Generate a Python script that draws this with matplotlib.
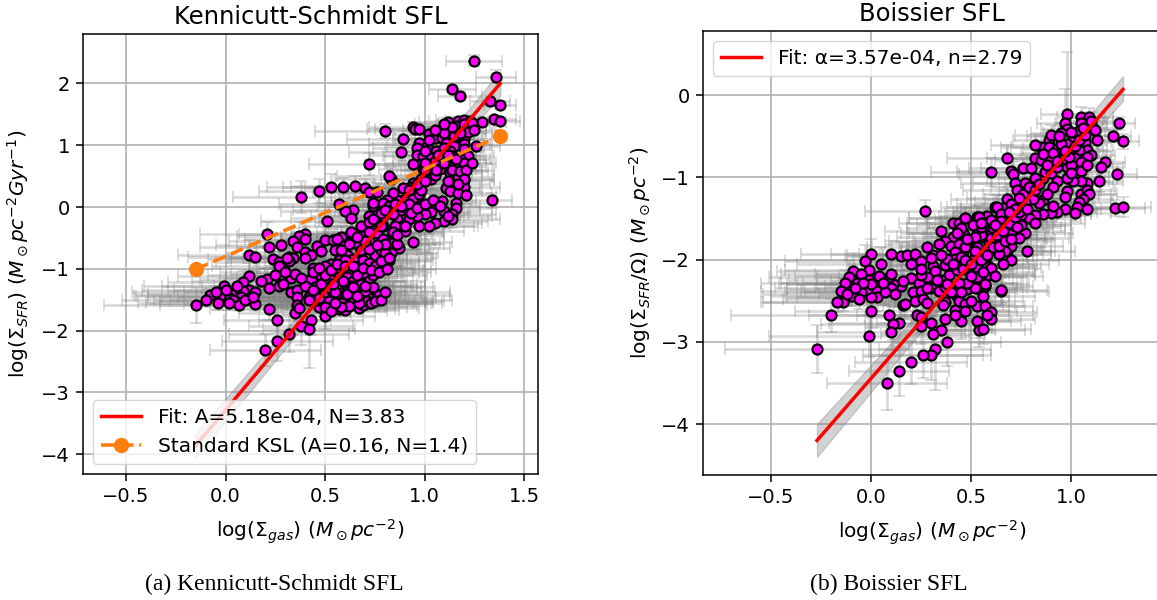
import matplotlib
matplotlib.use('Agg')
import matplotlib.pyplot as plt

# Kennicutt-Schmidt panel, values
ks_x = [1.25,1.36,1.14,1.18,1.33,1.38,1.35,1.38,1.29,1.12,
        1.17,1.20,1.23,1.16,1.20,1.24,1.15,.80,.94,.95,
        .97,1.02,1.05,1.09,1.12,.89,.97,.96,1.01,1.06,
        1.11,1.15,1.20,1.20,1.26,1.15,.88,.96,.99,1.03,
        1.08,1.13,1.20,1.22,1.18,1.14,1.10,1.15,1.20,.72,
        1.04,.99,.94,.83,.82,.98,1.03,1.13,1.17,1.20,
        1.20,1.11,1.13,1.17,1.21,1.16,1.09,1.34,1.16,1.14,
        1.14,1.10,1.05,1.02,1.03,1.10,.97,.94,.89,.89,
        .94,.97,.86,.84,.81,.59,.65,.70,.72,.76,
        .79,.74,.64,.60,.63,.68,.74,.79,.86,.92,
        .97,.90,.94,.87,.83,.82,.75,.69,.63,.84,
        .79,.75,.69,.63,.58,.65,.61,.69,.67,.60,
        .79,.70,.84,1.00,.96,.88,.82,.72,.38,.47,
        .53,.57,.51,.74,.78,.21,.40,.37,.40,.34,
        .36,.28,.22,.46,.12,.15,.40,.43,.40,.48,
        .50,.54,.56,.63,.72,.74,.76,.79,.72,.68,
        .72,.78,.24,.27,.32,.34,.32,.31,.27,.44,
        .53,.57,.64,.72,.66,.59,.62,.55,.57,.61,
        .12,.09,.21,.33,.43,.48,-.01,.12,.09,.15,
        .08,.03,.01,-.03,-.08,-.04,.05,.15,.22,.27,
        .29,.33,.36,.40,.45,.50,.54,.57,.61,.64,
        .66,.36,.42,.52,.57,.61,.64,.68,.72,.77,
        .72,.67,.57,.60,.47,.51,.36,.35,.22,.26,
        .50,.43,.38,.42,.32,.26,.20,.54,.58,.48,
        .37,.69,.71,-.15,.46,.50,.55,.60,.63,.68,
        .72,.52,.59,.66,.74,.60,.55,.60,.50,.75,
        .80,.72,.78,.85,.90,.85,.92,1.00,1.05,1.10,
        1.15,1.10,
        .46,.49,.52,.55,.58,.61,.64,.67,.70,.73,
        .75,.78,.80,.74,.70,.66,.62,.58,.54,.50,
        .44,.47,.53,.56,.60,.64,.69,.73,.77,.81,
        .78,.82,.86,.84,.80,.76,.70,.66,.62,.58,
        .86,.90,.93,.96,1.0,1.04,1.08,1.12,.98,.93,
        .80,.84,.88,.92,.96,1.0,1.05,1.08,1.0,1.06,
        1.1,1.14,1.18,1.07,1.12,1.16,1.02,1.0,1.1,1.05,
        1.22,1.25,1.18,1.14,1.1,1.21,1.24,1.2,1.17,1.12,
        -.1,-.05,.0,.04,.07,.1,.14,.18,.06,.02,
        .25,.3,.35,.38,.42,.44,.47,.5,.53,.55]
ks_y = [2.37,2.11,1.91,1.80,1.72,1.65,1.42,1.39,1.38,1.38,
        1.39,1.41,1.39,1.31,1.34,1.36,1.23,1.23,1.29,1.27,
        1.26,1.18,1.12,1.12,1.23,1.10,1.04,.96,.99,.91,
        1.04,1.10,1.10,1.02,.99,.99,.89,.85,.83,.80,
        .85,.91,.94,.83,.77,.83,.69,.66,.72,.70,
        .66,.61,.69,.46,.51,.46,.45,.55,.48,.43,
        .32,.31,.26,.23,.19,.07,.09,.11,-.01,-.12,
        -.20,-.23,-.26,-.30,-.08,-.06,.02,.15,.12,.31,
        .39,.21,.12,.23,.12,.33,.34,.30,.24,.24,
        .07,.02,-.04,-.06,-.17,-.31,-.23,-.15,-.17,-.20,
        -.31,-.39,-.56,-.67,-.75,-.85,-.77,-.85,-.90,-.42,
        -.31,-.52,-.47,-.44,-.48,-.58,-.77,-1.06,-1.28,-1.20,
        -.72,-.66,-.58,-.12,-.15,-.04,.02,-.15,.16,.26,
        .32,.05,-.22,.07,-.09,-.44,-.43,-.47,-.51,-.55,
        -.64,-.61,-.65,-.63,-.78,-.81,-.72,-.77,-.82,-.71,
        -.53,-.54,-.52,-.41,-.24,-.20,-.42,-.52,-.55,-.69,
        -.68,-.69,-.84,-.89,-.81,-.82,-.88,-.82,-.96,-.98,
        -.92,-.85,-.84,-.90,-.98,-.96,-1.01,-1.04,-1.13,-1.13,
        -1.11,-1.22,-1.17,-1.15,-1.16,-1.12,-1.28,-1.34,-1.36,-1.37,
        -1.45,-1.40,-1.46,-1.44,-1.42,-1.55,-1.52,-1.57,-1.31,-1.28,
        -1.24,-1.37,-1.34,-1.28,-1.29,-1.28,-1.31,-1.25,-1.34,-1.20,
        -1.34,-1.45,-1.46,-1.39,-1.49,-1.52,-1.54,-1.47,-1.47,-1.43,
        -1.55,-1.63,-1.65,-1.66,-1.61,-1.59,-1.58,-1.71,-1.65,-1.82,
        -1.77,-1.82,-1.93,-1.97,-2.05,-2.16,-2.32,-1.20,-1.39,-1.25,
        -1.63,-1.58,-1.52,-1.59,-1.40,-1.45,-1.45,-1.42,-1.28,-1.25,
        -1.20,-1.15,-1.20,-1.10,-1.10,-.85,-.70,-.62,-.95,-.95,
        -.75,-.40,-.30,-.30,.00,.05,.05,.60,.75,.95,
        1.15,.80,
        -1.50,-1.42,-1.52,-1.38,-1.56,-1.40,-1.30,-1.56,-1.36,-1.56,
        -1.52,-1.50,-1.38,-1.30,-1.28,-1.44,-1.60,-1.62,-1.24,-1.10,
        -1.05,-.98,-1.02,-.92,-.96,-.95,-.98,-1.02,-1.05,-1.0,
        -.88,-.82,-.60,-.40,-.60,-.62,-.55,-.48,-.60,-.70,
        -.46,-.30,-.10,-.02,.05,.12,.02,-.15,.28,.32,
        -.05,-.12,.02,.28,.38,.42,.52,.62,.72,.60,
        .72,.60,.58,.85,.85,.78,1.08,.9,1.2,1.25,
        1.22,1.25,1.2,1.3,1.35,.60,.72,.45,.38,.42,
        -1.5,-1.38,-1.35,-1.5,-1.58,-1.5,-1.45,-1.2,-1.28,-1.55,
        -1.1,-1.05,-1.08,-1.15,-1.5,-1.35,-1.48,-1.62,-1.68,-1.55]
ks_xerr = [.14,.10,.12,.11,.10,.08,.11,.10,.12,.15,
           .15,.14,.12,.15,.13,.11,.16,.35,.22,.24,
           .22,.18,.2,.16,.14,.28,.25,.22,.2,.18,
           .16,.15,.14,.13,.12,.15,.26,.24,.2,.19,
           .18,.16,.14,.13,.15,.16,.18,.16,.14,.3,
           .2,.22,.24,.28,.26,.2,.18,.16,.17,.15,
           .18,.17,.16,.17,.15,.2,.17,.1,.18,.22,
           .24,.22,.24,.25,.2,.18,.2,.22,.24,.22,
           .2,.2,.24,.25,.26,.3,.32,.3,.28,.27,
           .26,.28,.3,.32,.3,.29,.27,.26,.24,.26,
           .28,.3,.2,.26,.24,.22,.26,.28,.3,.26,
           .27,.26,.28,.3,.3,.28,.3,.28,.27,.3,
           .24,.27,.24,.22,.24,.25,.26,.29,.34,.3,
           .32,.3,.33,.27,.26,.34,.33,.31,.3,.32,
           .3,.33,.35,.3,.36,.34,.29,.3,.31,.28,
           .3,.29,.28,.3,.27,.26,.27,.25,.26,.28,
           .26,.24,.33,.32,.3,.31,.29,.3,.34,.28,
           .3,.28,.27,.25,.28,.3,.26,.31,.29,.28,
           .36,.38,.34,.33,.3,.32,.4,.38,.38,.36,
           .4,.42,.4,.42,.38,.4,.38,.36,.34,.33,
           .32,.34,.33,.3,.32,.3,.3,.28,.29,.27,
           .3,.34,.32,.33,.35,.34,.36,.33,.34,.36,
           .32,.3,.28,.27,.3,.3,.3,.28,.3,.27,
           .25,.26,.26,.23,.3,.28,.28,.28,.3,.3,
           .3,.32,.33,.46,.32,.32,.3,.3,.3,.28,
           .28,.3,.29,.28,.27,.27,.28,.28,.3,.25,
           .24,.26,.25,.24,.24,.24,.23,.19,.18,.16,
           .14,.16,
           .34,.34,.35,.36,.36,.37,.34,.36,.35,.36,
           .35,.36,.33,.3,.3,.33,.34,.33,.3,.3,
           .3,.3,.29,.28,.28,.27,.26,.26,.26,.25,
           .25,.24,.24,.25,.25,.26,.27,.28,.28,.29,
           .24,.23,.22,.22,.2,.19,.2,.22,.21,.22,
           .25,.24,.24,.22,.21,.2,.19,.18,.2,.18,
           .16,.15,.14,.18,.16,.15,.18,.2,.15,.16,
           .12,.11,.13,.14,.15,.14,.12,.15,.16,.17,
           .42,.42,.42,.4,.4,.38,.38,.35,.38,.42,
           .34,.33,.32,.32,.34,.33,.33,.3,.28,.3]
ks_yerr = [.09,.10,.07,.06,.08,.07,.05,.05,.06,.08,
           .07,.06,.06,.10,.08,.07,.10,.12,.09,.10,
           .1,.12,.09,.1,.11,.13,.12,.1,.14,.12,
           .13,.1,.12,.11,.1,.14,.14,.12,.15,.13,
           .14,.12,.11,.13,.15,.13,.16,.14,.12,.18,
           .15,.17,.15,.18,.16,.15,.16,.14,.13,.14,
           .14,.15,.16,.13,.14,.17,.16,.12,.15,.16,
           .14,.13,.12,.12,.15,.16,.17,.15,.18,.16,
           .17,.15,.18,.16,.17,.14,.16,.15,.17,.15,
           .18,.17,.19,.2,.18,.16,.19,.17,.18,.16,
           .14,.16,.14,.15,.17,.15,.18,.16,.2,.17,
           .17,.2,.18,.21,.19,.22,.2,.2,.17,.18,
           .16,.19,.16,.15,.16,.18,.17,.2,.26,.2,
           .22,.2,.22,.16,.17,.2,.18,.22,.19,.21,
           .22,.19,.24,.2,.24,.22,.2,.19,.23,.2,
           .21,.19,.2,.18,.17,.16,.18,.17,.19,.18,
           .19,.17,.25,.22,.21,.23,.2,.22,.24,.2,
           .19,.2,.18,.2,.17,.19,.21,.18,.2,.17,
           .2,.18,.17,.15,.18,.19,.13,.14,.12,.11,
           .1,.12,.1,.11,.1,.12,.11,.12,.14,.13,
           .16,.14,.15,.14,.13,.15,.14,.13,.12,.14,
           .12,.11,.1,.12,.09,.1,.09,.1,.09,.1,
           .09,.1,.12,.1,.12,.11,.18,.2,.17,.22,
           .2,.25,.3,.63,.3,.33,.26,.15,.13,.14,
           .15,.1,.1,.28,.12,.12,.11,.11,.13,.13,
           .14,.15,.14,.16,.15,.18,.2,.2,.17,.17,
           .16,.18,.17,.17,.17,.18,.16,.15,.14,.13,
           .11,.13,
           .1,.11,.09,.12,.09,.11,.13,.08,.11,.09,
           .09,.09,.11,.13,.13,.1,.09,.1,.14,.15,
           .16,.17,.16,.18,.17,.18,.17,.16,.16,.17,
           .17,.18,.16,.18,.17,.17,.19,.2,.19,.2,
           .17,.17,.16,.17,.16,.15,.16,.14,.15,.16,
           .18,.17,.18,.16,.15,.15,.14,.13,.14,.14,
           .13,.14,.14,.12,.12,.13,.1,.12,.09,.09,
           .07,.06,.07,.08,.09,.13,.12,.14,.15,.15,
           .11,.1,.11,.1,.11,.1,.1,.14,.13,.11,
           .18,.17,.18,.16,.11,.14,.12,.1,.11,.1]
ks_fit_x = [-.15, .6, 1.38]
ks_fit_y = [-3.86, -.99, 2.00]
ks_fit_lo = [-4.06, -1.11, 1.80]
ks_fit_hi = [-3.66, -.87, 2.20]
ksl_x = [-.15, 1.38]
ksl_y = [-1.01, 1.15]

# Boissier panel
bo_x = [.27,0,.10,.15,.18,.22,-.03,.28,.31,.35,
        .41,.44,.47,.46,.41,.37,.34,.40,.44,.46,
        .42,.53,.58,.60,.62,.67,.65,.53,.55,.60,
        .65,.59,.64,.68,.56,.52,.20,.25,.31,.32,
        .37,.42,.39,.43,.46,.20,.28,.24,.15,.11,
        .10,.09,.10,.03,.03,.03,-.01,-.01,0,0,
        -.09,-.05,-.11,-.07,-.13,-.02,-.05,-.15,-.10,-.06,
        -.14,-.17,-.20,.21,.25,.22,.26,.30,.34,.37,
        .28,.16,.17,.09,.14,.11,.10,-.01,.23,.25,
        .25,.30,.37,.37,.35,.31,.38,.32,.30,.26,
        .20,.14,.08,.42,.45,.43,.44,.47,.48,.49,
        .53,.56,.53,.57,.53,.54,.56,.60,.60,.58,
        .65,.53,.58,.57,.57,.25,.38,.48,-.27,.30,
        .98,1.05,1.09,.97,.98,1.05,.95,1.04,1.11,1.10,
        1.24,1.21,1.26,1.13,1.07,1.01,.98,.89,.85,.82,
        .89,.93,.99,1.08,1.10,1.08,1.04,1.02,1.17,1.05,
        .68,.82,.85,.89,.94,.98,1.00,1.05,.76,.80,
        .60,.70,.71,1.23,1.14,1.08,1.05,1.01,.98,.93,
        .86,.82,.77,.72,.91,.98,.97,1.05,1.08,1.09,
        1.06,1.04,1.03,1.02,1.08,1.22,1.26,.97,.93,.90,
        .91,.86,.84,.81,.77,.73,.68,.70,.63,.86,
        .82,.79,.82,.75,.70,.65,.60,.54,.47,.65,
        .70,.77,.74,.70,.78,.67,.64,.59,.55,.60,
        .65,.70,.53,.47,.46,.45,.58,.58,.53,.57,
        .52,.48,.65,.75,.71,.61,.55,.51,.65,.88,
        .35,.38,.41,.44,.47,.50,.52,.55,.58,.61,
        .63,.66,.69,.72,.74,.62,.64,.67,.70,.73,
        .76,.79,.82,.84,.87,.9,.93,.96,.99,.78,
        .86,.88,.91,.93,.95,.97,1.0,1.02,1.04,1.07,
        1.12,1.08,1.15,1.0,1.06,.9,.94,.74,.72,.69,
        .25,.28,.33,.36,.4,.45,.5,.35,.42,.47,
        .04,.07,.0,-.04,-.08,-.12,.06,.12,.16,.05,
        .52,.48,.55,.6,.62,.56,.5,.45,.43,.66]
bo_y = [-1.41,-1.93,-1.93,-1.96,-1.95,-1.93,-2.02,-1.85,-1.95,-1.65,
        -1.55,-1.55,-1.50,-1.68,-1.72,-1.78,-1.81,-1.83,-1.81,-1.89,
        -1.91,-1.48,-1.47,-1.53,-1.36,-1.36,-1.47,-1.61,-1.72,-1.69,
        -1.75,-1.81,-1.93,-1.89,-1.94,-1.97,-2.05,-2.02,-2.08,-2.14,
        -2.07,-1.99,-2.19,-2.13,-2.11,-2.23,-2.21,-2.28,-2.32,-2.30,
        -2.34,-2.21,-2.17,-2.30,-2.38,-2.46,-2.13,-2.25,-2.46,-2.63,
        -2.14,-2.17,-2.21,-2.29,-2.29,-2.36,-2.40,-2.38,-2.44,-2.48,
        -2.51,-2.51,-2.68,-2.40,-2.38,-2.50,-2.48,-2.34,-2.38,-2.33,
        -2.53,-2.55,-2.54,-2.67,-2.77,-2.78,-2.88,-2.93,-2.68,-2.70,
        -2.81,-2.77,-2.52,-2.72,-2.86,-2.90,-3.00,-3.09,-3.16,-3.16,
        -3.25,-3.36,-3.50,-2.61,-2.75,-2.44,-2.50,-2.54,-2.36,-2.28,
        -2.34,-2.44,-2.56,-2.56,-2.75,-2.86,-2.84,-2.64,-2.72,-2.68,
        -2.38,-2.09,-2.07,-2.18,-2.32,-2.19,-1.99,-1.79,-3.09,-1.98,
        -.23,-.26,-.26,-.34,-.41,-.34,-.46,-.44,-.40,-.32,
        -.34,-.50,-.56,-.55,-.57,-.52,-.59,-.54,-.63,-.61,
        -.63,-.66,-.69,-.67,-.73,-.75,-.67,-.77,-.81,-.81,
        -.77,-.77,-.79,-.77,-.85,-.87,-.85,-.92,-.89,-.89,
        -.93,-.92,-.96,-.96,-1.05,-1.07,-1.05,-1.05,-1.01,-1.04,
        -1.01,-1.01,-1.07,-1.07,-1.12,-1.17,-1.24,-1.20,-1.15,-1.20,
        -1.26,-1.30,-1.36,-1.43,-1.38,-1.37,-1.36,-1.39,-1.42,-1.43,
        -1.35,-1.28,-1.31,-1.26,-1.30,-1.15,-1.26,-1.32,-1.36,-1.44,
        -1.46,-1.49,-1.55,-1.46,-1.42,-1.44,-1.52,-1.48,-1.50,-1.53,
        -1.65,-1.68,-1.74,-1.83,-1.89,-1.89,-1.93,-1.87,-1.70,-1.74,
        -1.74,-2.01,-1.85,-1.85,-1.68,-1.97,-2.09,-2.19,-2.21,-2.30,
        -2.34,-2.29,-2.37,-1.58,-1.58,-1.62,-1.60,-1.58,-1.62,-1.20,
        -2.25,-2.3,-2.05,-2.28,-2.0,-2.2,-1.9,-2.0,-1.95,-1.85,
        -1.7,-1.65,-1.55,-1.48,-1.42,-1.58,-1.83,-1.78,-1.75,-1.6,
        -1.2,-1.12,-1.15,-1.08,-.93,-.95,-.88,-.78,-.75,-1.38,
        -.72,-.85,-.7,-.8,-.6,-.68,-.95,-.62,-.55,-.48,
        -.42,-.85,-.88,-.45,-.4,-.48,-.5,-1.25,-1.38,-1.42,
        -2.12,-2.35,-2.25,-2.55,-2.4,-2.4,-2.5,-1.95,-2.68,-2.62,
        -2.2,-2.4,-2.3,-2.28,-2.35,-2.42,-2.28,-2.42,-2.26,-2.05,
        -1.72,-1.75,-1.55,-2.1,-2.2,-2.15,-2.05,-1.62,-1.68,-2.05]
bo_xerr = [.3,.35,.3,.28,.3,.28,.4,.3,.27,.28,
           .27,.26,.28,.27,.28,.28,.27,.26,.26,.25,
           .27,.25,.24,.25,.24,.22,.23,.25,.25,.23,
           .23,.24,.22,.22,.25,.26,.32,.3,.29,.3,
           .28,.26,.3,.28,.27,.36,.34,.35,.38,.38,
           .38,.36,.38,.4,.38,.4,.42,.4,.42,.38,
           .38,.4,.4,.38,.42,.4,.38,.4,.4,.38,
           .4,.38,.5,.33,.32,.33,.3,.3,.28,.3,
           .3,.34,.33,.4,.35,.36,.37,.5,.3,.28,
           .28,.27,.25,.25,.27,.26,.27,.28,.3,.3,
           .28,.25,.3,.27,.25,.26,.25,.25,.25,.26,
           .25,.26,.24,.24,.22,.23,.24,.23,.22,.23,
           .24,.26,.25,.25,.24,.32,.28,.26,.46,.3,
           .13,.12,.12,.14,.13,.13,.15,.13,.12,.11,
           .08,.09,.08,.11,.13,.14,.15,.18,.2,.22,
           .19,.17,.15,.13,.12,.12,.14,.14,.1,.14,
           .3,.24,.23,.2,.18,.16,.16,.14,.27,.25,
           .3,.27,.27,.1,.12,.13,.14,.16,.17,.2,
           .22,.24,.26,.27,.2,.17,.17,.15,.14,.14,
           .15,.16,.17,.18,.15,.15,.14,.18,.2,.2,
           .2,.22,.23,.24,.25,.27,.28,.27,.28,.24,
           .25,.26,.25,.26,.27,.28,.28,.26,.28,.27,
           .27,.24,.25,.26,.24,.25,.26,.26,.28,.27,
           .26,.24,.27,.28,.28,.27,.24,.24,.25,.22,
           .24,.25,.23,.25,.26,.27,.27,.28,.26,.2,
           .3,.28,.28,.27,.26,.26,.27,.26,.25,.25,
           .24,.23,.22,.21,.21,.24,.23,.23,.22,.22,
           .2,.19,.18,.17,.16,.17,.16,.15,.14,.22,
           .18,.17,.16,.15,.15,.14,.14,.14,.13,.12,
           .1,.13,.11,.14,.12,.18,.16,.26,.27,.28,
           .33,.32,.3,.3,.28,.27,.26,.29,.27,.26,
           .42,.4,.42,.42,.4,.42,.4,.38,.36,.42,
           .26,.27,.26,.25,.24,.25,.26,.27,.28,.23]
bo_yerr = [.14,.18,.16,.17,.16,.15,.2,.16,.17,.15,
           .14,.15,.13,.14,.15,.15,.17,.15,.14,.16,
           .15,.13,.14,.13,.15,.14,.13,.14,.14,.13,
           .13,.14,.14,.13,.15,.16,.18,.17,.16,.18,
           .16,.15,.18,.16,.17,.2,.19,.2,.18,.17,
           .16,.18,.17,.15,.14,.16,.2,.16,.14,.2,
           .22,.2,.2,.14,.16,.14,.12,.15,.13,.12,
           .12,.13,.2,.16,.17,.18,.16,.18,.17,.16,
           .18,.17,.16,.2,.2,.2,.22,.25,.18,.2,
           .22,.2,.18,.2,.24,.25,.3,.5,.3,.28,
           .26,.3,.33,.2,.22,.18,.18,.17,.17,.16,
           .16,.17,.18,.17,.2,.2,.19,.16,.17,.16,
           .15,.15,.16,.16,.16,.17,.16,.15,.29,.16,
           .76,.12,.1,.42,.14,.1,.12,.13,.1,.11,
           .08,.07,.09,.1,.11,.12,.13,.12,.13,.14,
           .13,.14,.12,.11,.12,.11,.12,.14,.12,.13,
           .16,.15,.14,.14,.13,.14,.14,.13,.15,.14,
           .17,.16,.15,.12,.13,.13,.14,.14,.15,.14,
           .14,.15,.15,.16,.13,.13,.13,.12,.13,.12,
           .12,.11,.1,.1,.09,.1,.12,.09,.09,.1,
           .1,.12,.12,.13,.13,.14,.14,.13,.14,.1,
           .11,.11,.12,.12,.13,.13,.13,.14,.14,.12,
           .13,.13,.14,.15,.16,.16,.17,.15,.14,.14,
           .14,.16,.15,.15,.14,.16,.16,.17,.17,.18,
           .17,.18,.18,.13,.13,.14,.14,.15,.13,.13,
           .17,.17,.16,.17,.16,.16,.15,.16,.15,.15,
           .14,.14,.13,.13,.13,.14,.15,.15,.14,.14,
           .13,.13,.14,.14,.13,.13,.13,.13,.12,.12,
           .12,.13,.12,.13,.12,.12,.14,.12,.11,.1,
           .1,.12,.11,.11,.1,.12,.12,.13,.12,.13,
           .17,.18,.18,.19,.18,.17,.17,.16,.18,.18,
           .17,.15,.15,.16,.14,.13,.17,.16,.17,.2,
           .14,.14,.14,.16,.16,.16,.16,.14,.14,.15]
bo_fit_x = [-.27, .5, 1.26]
bo_fit_y = [-4.20, -2.05, .07]
bo_fit_lo = [-4.40, -2.15, -.07]
bo_fit_hi = [-4.00, -1.95, .23]

FS = 14.5

def PlotPanel(ax, x, y, xerr, yerr, fit_x, fit_y, fit_lo, fit_hi, fit_label):
    ax.errorbar(x, y, xerr=xerr, yerr=yerr, fmt='none', ecolor='gray', alpha=0.3,
                elinewidth=1.9, capsize=4.5, capthick=1.3, zorder=2)
    ax.scatter(x, y, s=52, c='magenta', edgecolors='black', linewidths=1.6, zorder=3)
    ax.fill_between(fit_x, fit_lo, fit_hi, color='gray', alpha=0.35, zorder=2.5)
    ax.plot(fit_x, fit_y, color='red', lw=2.5, label=fit_label, zorder=4)
    ax.grid(color='#b0b0b0', lw=1.2)
    ax.tick_params(labelsize=14, length=4.7, width=1.1, pad=4.7)
    for s in ax.spines.values():
        s.set_linewidth(1.1)

fig = plt.figure(figsize=(11.57, 6), dpi=100)

ax1 = fig.add_axes([83/1157, 126/600, 455/1157, 440/600])
PlotPanel(ax1, ks_x, ks_y, ks_xerr, ks_yerr, ks_fit_x, ks_fit_y, ks_fit_lo, ks_fit_hi,
          'Fit: A=5.18e-04, N=3.83')
ax1.plot(ksl_x, ksl_y, '--', color='tab:orange', lw=2.6, marker='o', ms=10,
         label='Standard KSL (A=0.16, N=1.4)', zorder=4)
ax1.set_xlim(-0.716, 1.57)
ax1.set_ylim(-4.32, 2.80)
ax1.set_xticks([-0.5, 0.0, 0.5, 1.0, 1.5])
ax1.set_title('Kennicutt-Schmidt SFL', fontsize=17.5, pad=7)
ax1.set_xlabel(r'log($\Sigma_{gas}$) ($M_\odot pc^{-2}$)', fontsize=FS, labelpad=8)
ax1.set_ylabel(r'log($\Sigma_{SFR}$) ($M_\odot pc^{-2} Gyr^{-1}$)', fontsize=FS, labelpad=7)
ax1.legend(loc='lower left', fontsize=FS)

ax2 = fig.add_axes([703/1157, 125/600, 458/1157, 444/600])
PlotPanel(ax2, bo_x, bo_y, bo_xerr, bo_yerr, bo_fit_x, bo_fit_y, bo_fit_lo, bo_fit_hi,
          'Fit: α=3.57e-04, n=2.79')
ax2.set_xlim(-0.84, 1.45)
ax2.set_ylim(-4.62, 0.78)
ax2.set_xticks([-0.5, 0.0, 0.5, 1.0])
ax2.set_title('Boissier SFL', fontsize=17.5, pad=7)
ax2.set_xlabel(r'log($\Sigma_{gas}$) ($M_\odot pc^{-2}$)', fontsize=FS, labelpad=8)
ax2.set_ylabel(r'log($\Sigma_{SFR}/\Omega$) ($M_\odot pc^{-2}$)', fontsize=FS, labelpad=6)
ax2.legend(loc='upper left', fontsize=FS)

fig.text(274/1157, 1 - 584/600, '(a) Kennicutt-Schmidt SFL', family='Liberation Serif',
         fontsize=17, ha='center', va='center')
fig.text(889/1157, 1 - 584/600, '(b) Boissier SFL', family='Liberation Serif',
         fontsize=17, ha='center', va='center')

fig.savefig('out.png', dpi=100)
